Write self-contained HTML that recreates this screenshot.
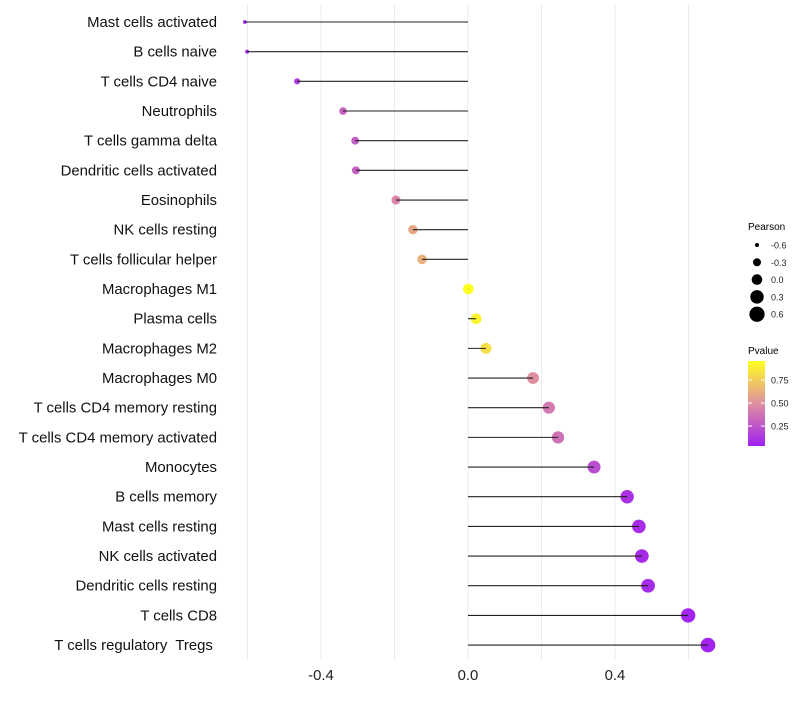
<!DOCTYPE html>
<html><head><meta charset="utf-8"><style>
body{margin:0;background:#fff;font-family:"Liberation Sans",sans-serif}
</style></head><body>
<svg id="chart" width="800" height="700" xmlns="http://www.w3.org/2000/svg">
<defs><linearGradient id="pg" x1="0" y1="1" x2="0" y2="0">
<stop offset="0" stop-color="#a020f0"/><stop offset="0.5" stop-color="#e090a0"/><stop offset="1" stop-color="#ffff20"/></linearGradient></defs>
<g id="grid"></g><g id="marks"></g><g id="ylabels"></g><g id="xlabels"></g>
<g>
<text x="748" y="230" font-size="10">Pearson</text>
<g id="sizeleg"></g>
</g>
<g>
<text x="748" y="354" font-size="10">Pvalue</text>
<rect x="748" y="361" width="17" height="85" fill="url(#pg)"/>
<g id="colleg"></g>
</g>
</svg>
<script>
const categories=["Mast cells activated","B cells naive","T cells CD4 naive","Neutrophils","T cells gamma delta","Dendritic cells activated","Eosinophils","NK cells resting","T cells follicular helper","Macrophages M1","Plasma cells","Macrophages M2","Macrophages M0","T cells CD4 memory resting","T cells CD4 memory activated","Monocytes","B cells memory","Mast cells resting","NK cells activated","Dendritic cells resting","T cells CD8","T cells regulatory  Tregs "];
const pearson=[-0.607,-0.601,-0.465,-0.34,-0.307,-0.305,-0.196,-0.15,-0.125,0.001,0.022,0.049,0.177,0.22,0.245,0.343,0.433,0.465,0.473,0.49,0.599,0.653];
const pvalue=[0.02,0.03,0.12,0.28,0.28,0.28,0.45,0.6,0.65,1.0,0.95,0.85,0.5,0.4,0.36,0.2,0.08,0.06,0.05,0.05,0.02,0.02];
const xTicks=[-0.4,0.0,0.4];
const xTickLabels=["-0.4","0.0","0.4"];
const sizeLegendVals=[-0.6,-0.3,0.0,0.3,0.6];
const colorLegendVals=[0.25,0.5,0.75];
const NS="http://www.w3.org/2000/svg";
const xs=v=>468+v*367.5;
const ys=i=>22+i*29.67;
const rs=v=>Math.sqrt(Math.max(2.2,28+40*v));
const cy=p=>449-p*92;
function col(p){const a=[160,32,240],b=[224,144,160],c=[255,255,32];let u,s,e;if(p<0.5){u=p/0.5;s=a;e=b}else{u=(p-0.5)/0.5;s=b;e=c}
return "rgb("+s.map((x,k)=>Math.round(x+(e[k]-x)*u)).join(",")+")";}
function mk(t,at,par){const el=document.createElementNS(NS,t);for(const k in at)el.setAttribute(k,at[k]);par.appendChild(el);return el;}
const grid=document.getElementById('grid');
for(let v=-0.6;v<=0.61;v+=0.2){const l=mk('line',{x1:xs(v),x2:xs(v),y1:5,y2:660,stroke:'#ebebeb','stroke-width':1},grid);

}
const marks=document.getElementById('marks'),yl=document.getElementById('ylabels');
categories.forEach((c,i)=>{
 const p=mk('circle',{cx:xs(pearson[i]),cy:ys(i),r:rs(pearson[i]),fill:col(pvalue[i])},marks);
 
 
 const l=mk('line',{x1:xs(0),x2:xs(pearson[i]),y1:ys(i),y2:ys(i),stroke:'#222','stroke-width':1.1},marks);
 
 
 const t=mk('text',{x:217,y:ys(i)+5,'text-anchor':'end','font-size':14.9,fill:'#111',style:'white-space:pre'},yl);t.textContent=c;
 
 
});
const xl=document.getElementById('xlabels');
xTicks.forEach((v,i)=>{const t=mk('text',{x:xs(v),y:680,'text-anchor':'middle','font-size':14.9,fill:'#222'},xl);t.textContent=xTickLabels[i];

});
const sl=document.getElementById('sizeleg');
sizeLegendVals.forEach((v,i)=>{const y=245+i*17.3;
 const c=mk('circle',{cx:757,cy:y,r:Math.max(1.5,rs(v)+(v>0?0.4:0)),fill:'#000'},sl);
 
 
 const t=mk('text',{x:771,y:y+3.5,'font-size':9,fill:'#222'},sl);t.textContent=v.toFixed(1);
 
 });
const cl=document.getElementById('colleg');
colorLegendVals.forEach(v=>{const y=cy(v);
 mk('line',{x1:748,x2:752,y1:y,y2:y,stroke:'#fff'},cl);mk('line',{x1:761,x2:765,y1:y,y2:y,stroke:'#fff'},cl);
 const t=mk('text',{x:771,y:y+3.5,'font-size':9,fill:'#222'},cl);t.textContent=v.toFixed(2);
 
 });
</script>
</body></html>
